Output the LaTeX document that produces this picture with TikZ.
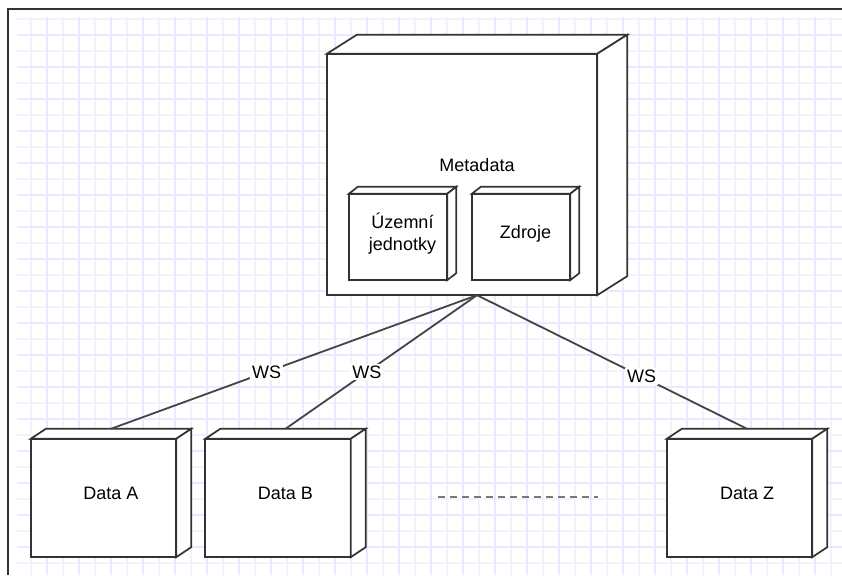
\documentclass[tikz,border=0pt]{standalone}
\usepackage{fontspec}
\setmainfont{Liberation Sans}
\usetikzlibrary{calc}

\pgfdeclarelayer{gridlayer}
\pgfdeclarelayer{faces}
\pgfsetlayers{gridlayer,faces,main}

\definecolor{gridminor}{RGB}{243,243,255}
\definecolor{gridmajor}{RGB}{233,233,255}
\definecolor{edge}{RGB}{51,51,51}
\definecolor{wire}{RGB}{68,68,68}
\definecolor{dots}{RGB}{120,120,120}

\tikzset{
  face/.style={draw=edge, fill=white, line width=1.7pt, line join=miter},
  cubebox/.style={rectangle, draw=none, inner sep=0pt, align=center,
    font=\fontsize{18}{22}\selectfont},
  conn/.style={draw=wire, line width=1.8pt},
  wslabel/.style={fill=white, inner sep=2pt, font=\fontsize{18}{22}\selectfont},
  minorline/.style={draw=gridminor, line width=1.2pt},
  majorline/.style={draw=gridmajor, line width=1.2pt},
  frameline/.style={draw=edge, line width=1.7pt},
}

% 3D box faces around a named node: #1 node, #2 depth x, #3 depth y
\newcommand\cubefaces[3]{%
  \begin{pgfonlayer}{faces}
    \filldraw[face] (#1.south west) rectangle ([xshift=-#2pt,yshift=-#3pt]#1.north east);
    \filldraw[face] ([yshift=-#3pt]#1.north west) -- ([xshift=#2pt]#1.north west)
      -- (#1.north east) -- ([xshift=-#2pt,yshift=-#3pt]#1.north east) -- cycle;
    \filldraw[face] ([xshift=-#2pt,yshift=-#3pt]#1.north east) -- (#1.north east)
      -- ([yshift=#3pt]#1.south east) -- ([xshift=-#2pt]#1.south east) -- cycle;
  \end{pgfonlayer}}

\begin{document}
\begin{tikzpicture}[x=1pt,y=-1pt]
\useasboundingbox (0,0) rectangle (842,575);

% paper and grid
\begin{pgfonlayer}{gridlayer}
  \fill[white] (0,0) rectangle (842,575);
  \begin{scope}
    \clip (17,17) rectangle (842,575);
    \foreach \x in {31,63,...,842} \draw[minorline] (\x,17) -- (\x,575);
    \foreach \y in {19,51,...,575} \draw[minorline] (17,\y) -- (842,\y);
    \foreach \x in {47,79,...,842} \draw[majorline] (\x,17) -- (\x,575);
    \foreach \y in {35,67,...,575} \draw[majorline] (17,\y) -- (842,\y);
  \end{scope}
\end{pgfonlayer}

% frame
\draw[frameline] (842,9) -- (8,9) -- (8,575);

% metadata node with its two inner parts
\node[cubebox, minimum width=300pt, minimum height=260pt] (meta) at (477,165) {Metadata};
\cubefaces{meta}{30}{19}
\node[cubebox, minimum width=107pt, minimum height=93pt] (units) at (402.5,233.5) {Územní\\jednotky};
\cubefaces{units}{9}{7}
\node[cubebox, minimum width=107pt, minimum height=93pt] (sources) at (525.5,233.5) {Zdroje};
\cubefaces{sources}{9}{7}

% data nodes
\node[cubebox, minimum width=160pt, minimum height=128pt] (dataA) at (111,493) {Data A};
\cubefaces{dataA}{15}{10}
\node[cubebox, minimum width=160pt, minimum height=128pt] (dataB) at (285.5,493) {Data B};
\cubefaces{dataB}{15}{10}
\node[cubebox, minimum width=160pt, minimum height=128pt] (dataZ) at (747,493) {Data Z};
\cubefaces{dataZ}{15}{10}

% web service links
\draw[conn] (meta.south) -- (dataA.north) node[wslabel, pos=0.575] {WS};
\draw[conn] (meta.south) -- (dataB.north) node[wslabel, pos=0.575] {WS};
\draw[conn] (meta.south) -- (dataZ.north) node[wslabel, pos=0.61] {WS};

% ellipsis between the data nodes
\coordinate (gapL) at (438,497);
\coordinate (gapR) at (598,497);
\draw[draw=dots, line width=2.8pt, dash pattern=on 7pt off 5pt] (gapL) -- (gapR);
\end{tikzpicture}
\end{document}
